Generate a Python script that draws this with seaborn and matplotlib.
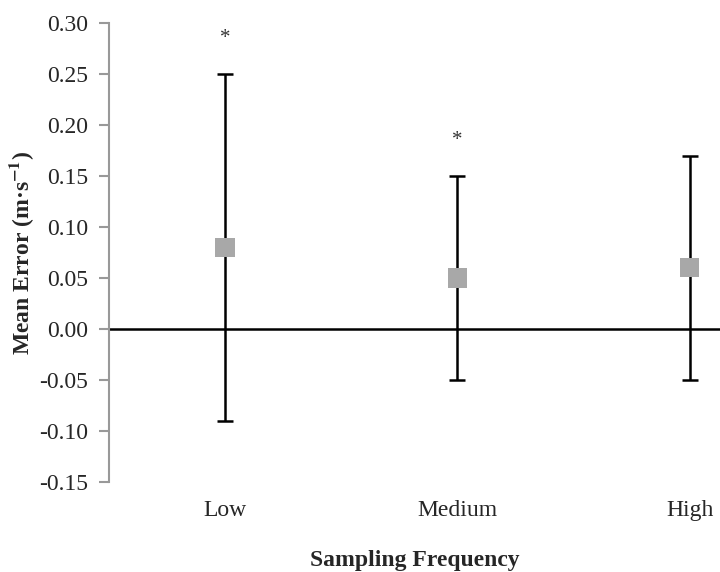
import matplotlib
matplotlib.use("Agg")
import matplotlib.pyplot as plt
import seaborn as sns
import numpy as np
import pandas as pd

categories = ["Low", "Medium", "High"]
mean_error = [0.08, 0.05, 0.06]
upper = [0.25, 0.15, 0.17]
lower = [-0.09, -0.05, -0.05]
significant = [True, True, False]
yticks = [-0.15, -0.10, -0.05, 0.00, 0.05, 0.10, 0.15, 0.20, 0.25, 0.30]

sns.set_theme(style="white")
plt.rcParams['font.family'] = ['Liberation Serif', 'DejaVu Serif']
plt.rcParams['mathtext.fontset'] = 'stix'

df = pd.DataFrame({"cat": categories, "mean": mean_error, "up": upper, "lo": lower})
pos = np.arange(len(categories))

fig = plt.figure(figsize=(7.2, 5.72), dpi=100)
ax = fig.add_axes([0.151, 0.157, 0.849, 0.803])

ax.axhline(0, color="black", lw=1.8, zorder=1)
err = [df["mean"] - df["lo"], df["up"] - df["mean"]]
ax.errorbar(pos, df["mean"], yerr=err, fmt="none", ecolor="black",
            elinewidth=1.8, capsize=6, capthick=1.8, zorder=2)
sns.scatterplot(x=pos, y=df["mean"], marker="s", s=190, color="#A8A8A8",
                edgecolor="none", ax=ax, zorder=3, legend=False)

for p, u, sig in zip(pos, upper, significant):
    if sig:
        ax.text(p, u + 0.035, "*", ha="center", va="center", fontsize=15, color="#333333")

ax.set_xlim(-0.5, 2.13)
ax.set_ylim(-0.15, 0.30)
ax.set_yticks(yticks)
ax.set_yticklabels([f"{t:.2f}" for t in yticks], fontsize=17)
ax.set_xticks(pos)
ax.set_xticklabels(categories, fontsize=17)
ax.tick_params(axis="x", length=0, pad=13)
ax.tick_params(axis="y", length=7, width=1.5, color="#999999", direction="out", left=True, pad=8)

for s in ["top", "right", "bottom"]:
    ax.spines[s].set_visible(False)
ax.spines["left"].set_color("#999999")
ax.spines["left"].set_linewidth(1.5)

ax.set_xlabel("Sampling Frequency", fontsize=17, fontweight="bold", va="center")
ax.xaxis.set_label_coords(0.5, -0.17)
ax.set_ylabel("Mean Error (m·s$^{\\mathbf{-1}}$)", fontsize=17, fontweight="bold", va="center")
ax.yaxis.set_label_coords(-0.142, 0.5)

fig.savefig("out.png", dpi=100)
